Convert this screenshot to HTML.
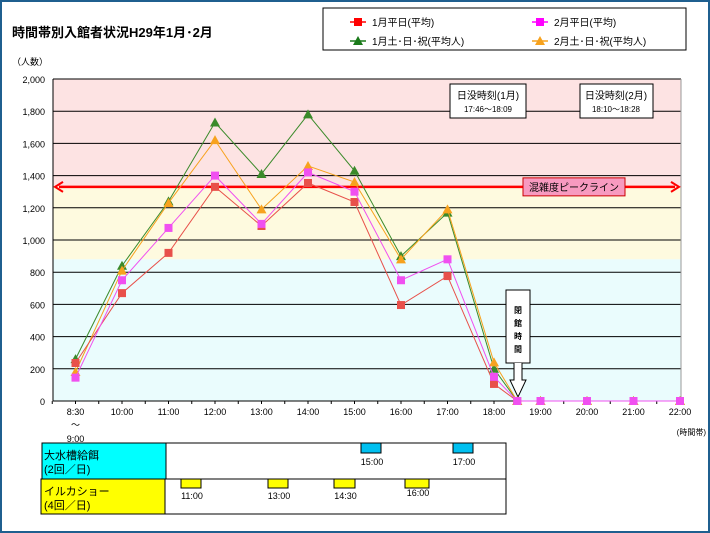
<!DOCTYPE html>
<html><head><meta charset="utf-8"><style>
body{margin:0;width:710px;height:533px;overflow:hidden;background:#fff;font-family:"Liberation Sans","Noto Sans CJK JP",sans-serif;}
#frame{position:absolute;left:0;top:0;width:706px;height:529px;border:2px solid #1f5f8f;}
</style></head><body>
<div id="frame"></div>
<svg id="c" width="710" height="533" style="position:absolute;left:0;top:0" font-family="Liberation Sans, Noto Sans CJK JP, sans-serif"></svg>
<script>
const hours=[9,10,11,12,13,14,15,16,17,18,18.5,19,20,21,22];
const janWeekday=[236,670,920,1330,1087,1354,1236,596,776,106,0,0,0,0,0];
const febWeekday=[145,750,1075,1400,1100,1420,1300,750,880,150,0,0,0,0,0];
const janHoliday=[260,840,1240,1730,1410,1780,1430,900,1170,200,0,0,0,0,0];
const febHoliday=[180,810,1230,1620,1190,1460,1360,880,1190,240,0,0,0,0,0];
const yTicks=[0,200,400,600,800,1000,1200,1400,1600,1800,2000];
const xLabels=["8:30","10:00","11:00","12:00","13:00","14:00","15:00","16:00","17:00","18:00","19:00","20:00","21:00","22:00"];
const xLabelHours=[9,10,11,12,13,14,15,16,17,18,19,20,21,22];
const peakLine=1330, yellowFloor=880;
const NS="http://www.w3.org/2000/svg";
const svg=document.getElementById('c');
const X=h=>122+(h-10)*46.5;
const Y=v=>401-v*0.161;
function el(t,a,p){const e=document.createElementNS(NS,t);for(const k in a)e.setAttribute(k,a[k]);(p||svg).appendChild(e);return e;}
function tx(x,y,s,size,anchor,name,extra){const t=el('text',Object.assign({x:x,y:y,'font-size':size,'text-anchor':anchor||'start',fill:'#000'},extra||{}));t.textContent=s;return t;}
const L=53,R=681;
// bands
let b=el('rect',{x:L,y:Y(2000),width:R-L,height:Y(peakLine)-Y(2000),fill:'#fde3e3'});
b=el('rect',{x:L,y:Y(peakLine),width:R-L,height:Y(yellowFloor)-Y(peakLine),fill:'#fefadf'});
b=el('rect',{x:L,y:Y(yellowFloor),width:R-L,height:Y(0)-Y(yellowFloor),fill:'#eafcfd'});
yTicks.forEach(v=>{
 if(v>0){const g=el('line',{x1:L,x2:R,y1:Y(v),y2:Y(v),stroke:'#000','stroke-width':1});}
 tx(45,Y(v)+4,v.toLocaleString('en-US'),9,'end','y-tick-label');
});
let ax=el('line',{x1:L,x2:L,y1:Y(2000),y2:Y(0),stroke:'#000'});
ax=el('line',{x1:L,x2:R,y1:Y(0),y2:Y(0),stroke:'#000'});
el('line',{x1:R,x2:R,y1:Y(2000),y2:Y(0),stroke:'#999'});
for(let h=8.5;h<=22;h+=0.5){const t=el('line',{x1:X(h),x2:X(h),y1:Y(0),y2:Y(0)+3,stroke:'#000'});}
xLabelHours.forEach((h,i)=>tx(X(h),415,xLabels[i],9,'middle','x-tick-label'));
tx(X(9),428,"～",9,'middle','x-tick-label');
tx(X(9),442,"9:00",9,'middle','x-tick-label');
tx(706,435,"(時間帯)",8,'end','x-axis-title');
tx(12,65,"（人数）",9,'start','y-axis-title');
tx(12,37,"時間帯別入館者状況H29年1月･2月",13,'start','chart-title',{'font-weight':'bold'});
// peak line
let pl=el('line',{x1:L+6,x2:R-6,y1:Y(peakLine),y2:Y(peakLine),stroke:'#f00','stroke-width':2.5});
el('path',{d:`M${L+10} ${Y(peakLine)-5} L${L+2} ${Y(peakLine)} L${L+10} ${Y(peakLine)+5}`,stroke:'#f00','stroke-width':2,fill:'none'});
el('path',{d:`M${R-10} ${Y(peakLine)-5} L${R-2} ${Y(peakLine)} L${R-10} ${Y(peakLine)+5}`,stroke:'#f00','stroke-width':2,fill:'none'});
let pb=el('rect',{x:523,y:Y(peakLine)-9,width:102,height:18,fill:'#f79ac0',stroke:'#c00'});
tx(574,Y(peakLine)+4,"混雑度ピークライン",10,'middle','peak-line-label');
// sunset boxes
[[450,"日没時刻(1月)","17:46～18:09"],[580,"日没時刻(2月)","18:10～18:28"]].forEach(([x,a,c])=>{
 const r=el('rect',{x:x,y:84,width:x==450?76:73,height:34,fill:'#fff',stroke:'#000'});
 tx(x+(x==450?38:36),99,a,10,'middle','sunset-title');tx(x+(x==450?38:36),112,c,8,'middle','sunset-time');
});
// closing box
let cb=el('rect,'.slice(0,4),{x:506,y:290,width:24,height:73,fill:'#fff',stroke:'#000'});
["閉","館","時","間"].forEach((ch,i)=>tx(518,313+i*13,ch,8,'middle','closing-time-label',{'font-weight':'bold'}));
el('path',{d:'M514 363 L514 380 L510 380 L518 397 L526 380 L522 380 L522 363',fill:'#fff',stroke:'#000'});
// series
function series(vals,color,marker,name){
 const g=el('g',{});
 el('polyline',{points:vals.map((v,i)=>X(hours[i])+','+Y(v)).join(' '),fill:'none',stroke:color,'stroke-width':1},g);
 vals.forEach((v,i)=>{const x=X(hours[i]),y=Y(v);let m;
  if(marker=='sq')m=el('rect',{x:x-4,y:y-4,width:8,height:8,fill:color},g);
  else m=el('path',{d:`M${x} ${y-5} L${x+5} ${y+4} L${x-5} ${y+4}Z`,fill:color},g);
  });
}
series(janHoliday,'#3a8a2a','tri','series-jan-holiday');
series(febHoliday,'#f7a21e','tri','series-feb-holiday');
series(janWeekday,'#e8504a','sq','series-jan-weekday');
series(febWeekday,'#f050f0','sq','series-feb-weekday');
// legend
let lg=el('rect',{x:323,y:8,width:363,height:42,fill:'#fff',stroke:'#000'});
[[350,22,'#f00','sq',"1月平日(平均)"],[532,22,'#f0f','sq',"2月平日(平均)"],[350,41,'#1a7a1a','tri',"1月土･日･祝(平均人)"],[532,41,'#f7a21e','tri',"2月土･日･祝(平均人)"]].forEach(([x,y,c,m,s])=>{
 el('line',{x1:x,x2:x+16,y1:y,y2:y,stroke:c,'stroke-width':1.5});
 if(m=='sq')el('rect',{x:x+4,y:y-4,width:8,height:8,fill:c});else el('path',{d:`M${x+8} ${y-5} L${x+13} ${y+4} L${x+3} ${y+4}Z`,fill:c});
 tx(x+22,y+4,s,10,'start','legend-entry');
});
// schedule table
let t1=el('rect',{x:42,y:443,width:124,height:36,fill:'#00ffff',stroke:'#000'});
el('rect',{x:166,y:443,width:340,height:36,fill:'#fff',stroke:'#000'});
let t2=el('rect',{x:41,y:479,width:124,height:35,fill:'#ffff00',stroke:'#000'});
el('rect',{x:165,y:479,width:341,height:35,fill:'#fff',stroke:'#000'});
tx(44,459,"大水槽給餌",11,'start','feeding-label');tx(44,473,"(2回／日)",11,'start','feeding-label');
tx(44,495,"イルカショー",11,'start','dolphin-label');tx(44,509,"(4回／日)",11,'start','dolphin-label');
[[361,"15:00"],[453,"17:00"]].forEach(([x,s])=>{const r=el('rect',{x:x,y:443,width:20,height:10,fill:'#00c0f0',stroke:'#000'});tx(x+11,465,s,9,'middle','feeding-time');});
[[181,"11:00",20,499],[268,"13:00",20,499],[334,"14:30",21,499],[405,"16:00",24,496]].forEach(([x,s,w,ty])=>{const r=el('rect',{x:x,y:479,width:w,height:9,fill:'#ffff00',stroke:'#000'});tx(x+w/2+1,ty,s,9,'middle','dolphin-time');});
</script>
</body></html>
